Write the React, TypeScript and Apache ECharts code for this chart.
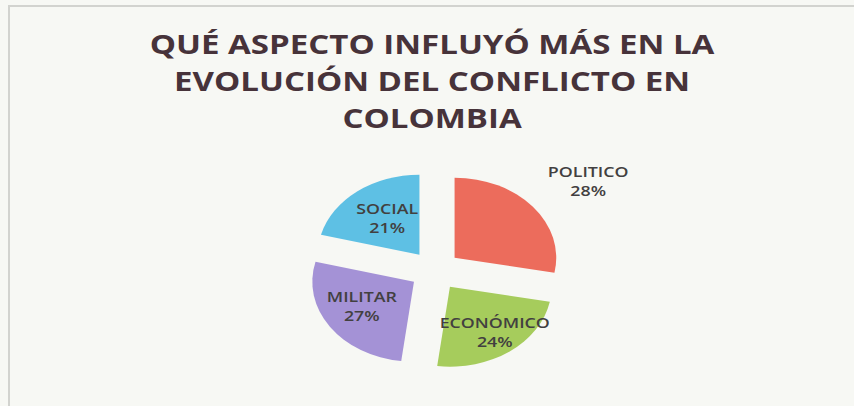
import React, { useEffect, useRef } from "react";
import * as echarts from "echarts";

const titleLines = ["QUÉ ASPECTO INFLUYÓ MÁS EN LA", "EVOLUCIÓN DEL CONFLICTO EN", "COLOMBIA"];
const categories = ["POLITICO", "ECONÓMICO", "MILITAR", "SOCIAL"];
const percentages = [28, 24, 27, 21];
const sliceColors = ["#ec6c5c", "#a6cc5c", "#a492d6", "#5ec0e4"];
// label nudges (chart space) so labels sit where the reference places them
const labelNudges = [
  [72, -49],
  [10, 10.5],
  [-5.5, 0],
  [1, -2],
];

const W = 854;
const H = 406;
const STRETCH = 1.2708; // the reference picture is stretched horizontally
const CW = W / STRETCH;

export default function App() {
  const ref = useRef<HTMLDivElement>(null);
  useEffect(() => {
    if (!ref.current) return;
    const chart = echarts.init(ref.current, null, { renderer: "svg" });
    chart.setOption({
      animation: false,
      backgroundColor: "transparent",
      title: {
        text: titleLines.join("\n"),
        left: 335,
        textAlign: "center",
        top: 20,
        textStyle: {
          fontFamily: "Open Sans",
          fontWeight: 700,
          fontSize: 26,
          lineHeight: 37,
          color: "#47333a",
        },
      },
      series: [
        {
          type: "pie",
          center: [342.3, 270.5],
          radius: [0, 80],
          startAngle: 90,
          clockwise: true,
          selectedMode: "multiple",
          selectedOffset: 20,
          avoidLabelOverlap: false,
          emphasis: { disabled: true },
          select: { itemStyle: { borderWidth: 0 } },
          itemStyle: { borderWidth: 0 },
          label: {
            show: true,
            position: "inside",
            formatter: (p: any) => `${p.name}\n${p.value}%`,
            fontFamily: "Open Sans",
            fontWeight: 600,
            fontSize: 14,
            lineHeight: 19,
            color: "#424040",
          },
          labelLine: { show: false },
          labelLayout: (p: any) => ({
            dx: labelNudges[p.dataIndex][0],
            dy: labelNudges[p.dataIndex][1],
          }),
          data: categories.map((name, i) => ({
            name,
            value: percentages[i],
            selected: true,
            itemStyle: { color: sliceColors[i] },
          })),
        },
      ],
    });
    return () => chart.dispose();
  }, []);

  return (
    <div
      style={{
        position: "fixed",
        left: 0,
        top: 0,
        width: W,
        height: H,
        background: "#f7f8f4",
        overflow: "hidden",
      }}
    >
      <div
        style={{
          position: "absolute",
          left: 8,
          top: 5,
          right: 0,
          bottom: 0,
          borderTop: "2px solid #d2d3cf",
          borderLeft: "2px solid #d2d3cf",
        }}
      />
      <div
        ref={ref}
        style={{
          position: "absolute",
          left: 0,
          top: 0,
          width: CW,
          height: H,
          transform: `scaleX(${STRETCH})`,
          transformOrigin: "0 0",
        }}
      />
    </div>
  );
}
